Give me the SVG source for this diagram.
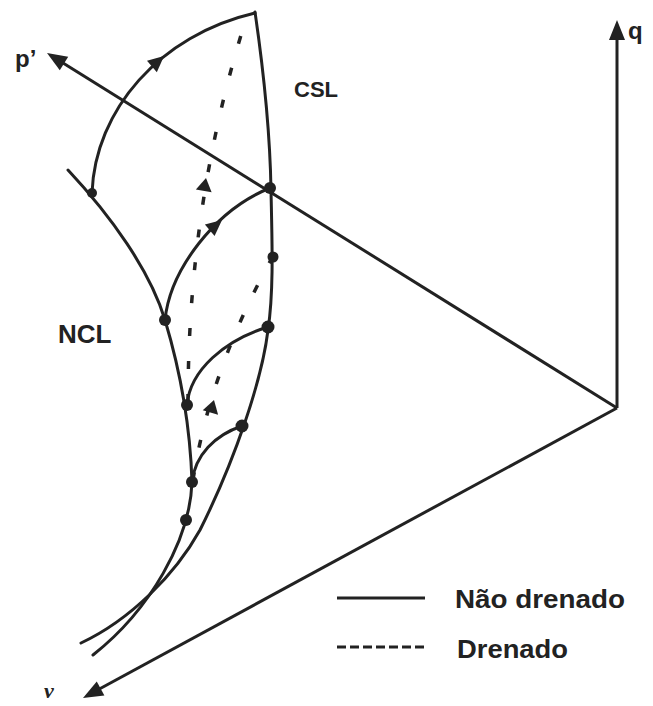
<svg xmlns="http://www.w3.org/2000/svg" width="653" height="706" viewBox="0 0 653 706">
<style>
.ln{fill:none;stroke:#222;stroke-width:3;stroke-linecap:round}
.ax{fill:none;stroke:#222;stroke-width:3}
.dr{fill:none;stroke:#222;stroke-width:3.5;stroke-dasharray:8 25}
.hd{fill:#222}
.pt{fill:#222}
.lb{font-family:"Liberation Sans",Arial,sans-serif;font-weight:bold;fill:#222}
</style>
<defs>
<path id="axh" d="M0,0 L-20,-8 L-20,8 Z"/>
<path id="ah" d="M0,0 L-16,-7.5 L-16,7.5 Z"/>
<path id="dh" d="M0,0 L-13,-8 L-13,8 Z"/>
</defs>
<rect width="653" height="706" fill="#fff"/>
<g id="axes">
<line class="ax" x1="617" y1="408" x2="617" y2="30"/>
<line class="ax" x1="617" y1="408" x2="55" y2="58"/>
<line class="ax" x1="617" y1="408" x2="92" y2="693"/>
<use href="#axh" class="hd" transform="translate(617,20) rotate(-90)"/>
<use href="#axh" class="hd" transform="translate(47,53) rotate(211.9)"/>
<use href="#axh" class="hd" transform="translate(83,698) rotate(151.5)"/>
</g>
<g id="connectors">
<path id="ncl" class="ln" d="M68,170 C110,215 150,270 165,320 C180,370 190,420 192,482 C190,540 150,610 93,655"/>
<path id="csl" class="ln" d="M255,12 C262,60 270,130 271,190 C272,240 274,290 268,330 C262,380 235,460 200,530 C175,575 130,620 81,643"/>
<path class="ln" d="M92,193 C95,110 160,35 255,13"/>
<path class="ln" d="M165,320 C170,270 215,210 270,188"/>
<path class="ln" d="M187,405 C190,370 225,340 268,327"/>
<path class="ln" d="M192,482 C195,455 215,435 242,426"/>
<path class="dr" d="M188,402 Q188,200 247,16"/>
<path class="dr" d="M193,480 Q210,370 272,258"/>
<use href="#ah" class="hd" transform="translate(164,56) rotate(-41)"/>
<use href="#ah" class="hd" transform="translate(222,220) rotate(-40)"/>
<use href="#dh" class="hd" transform="translate(206,178) rotate(-80)"/>
<use href="#dh" class="hd" transform="translate(214,400) rotate(-74)"/>
</g>
<g id="p1"><circle class="pt" cx="92" cy="193" r="5"/></g>
<g id="p2"><circle class="pt" cx="165" cy="320" r="6"/></g>
<g id="p3"><circle class="pt" cx="187" cy="405" r="6"/></g>
<g id="p4"><circle class="pt" cx="192" cy="482" r="6"/></g>
<g id="p5"><circle class="pt" cx="186" cy="520" r="6"/></g>
<g id="p6"><circle class="pt" cx="270" cy="188" r="6"/></g>
<g id="p7"><circle class="pt" cx="273" cy="257" r="5.5"/></g>
<g id="p8"><circle class="pt" cx="268" cy="327" r="6.5"/></g>
<g id="p9"><circle class="pt" cx="242" cy="426" r="6.5"/></g>
<g id="labels">
<text class="lb" x="15" y="67" font-size="24">p’</text>
<text class="lb" x="628" y="39" font-size="24">q</text>
<text class="lb" x="294" y="97" font-size="22">CSL</text>
<text class="lb" x="58" y="343" font-size="26">NCL</text>
<text x="44" y="698" font-family="Liberation Serif,serif" font-style="italic" font-weight="bold" font-size="22" fill="#222">v</text>
</g>
<g id="legend">
<line class="ax" x1="337" y1="598" x2="425" y2="598"/>
<line class="ax" x1="337" y1="647" x2="425" y2="647" stroke-dasharray="9 4"/>
<text class="lb" x="455" y="608" font-size="25" textLength="170" lengthAdjust="spacingAndGlyphs">Não drenado</text>
<text class="lb" x="457" y="658" font-size="25" textLength="111" lengthAdjust="spacingAndGlyphs">Drenado</text>
</g>
</svg>
